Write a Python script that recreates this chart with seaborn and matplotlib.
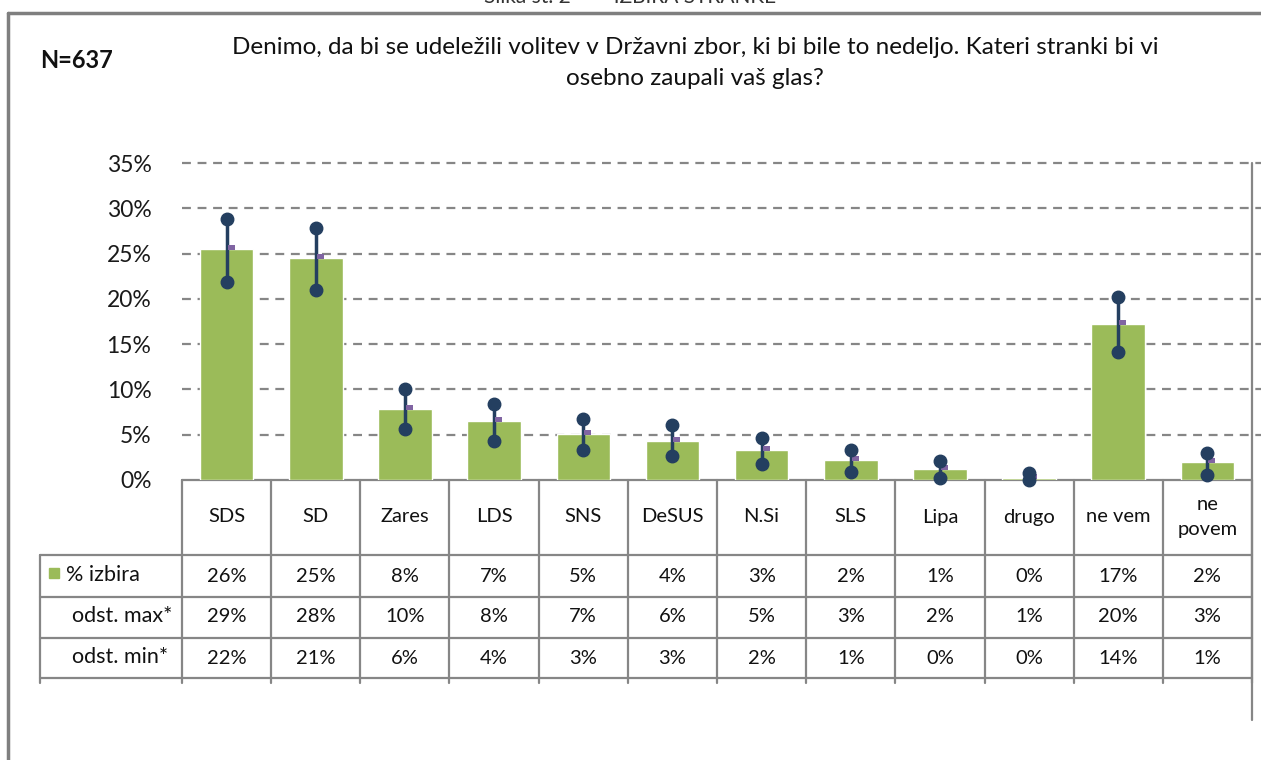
import numpy as np
import pandas as pd
import matplotlib
matplotlib.use("Agg")
import matplotlib.pyplot as plt
import matplotlib.transforms as mtransforms
from matplotlib.lines import Line2D
from matplotlib.patches import Rectangle
from matplotlib.path import Path
import seaborn as sns

# data (percent)
categories = ["SDS", "SD", "Zares", "LDS", "SNS", "DeSUS", "N.Si", "SLS", "Lipa", "drugo", "ne vem", "ne\npovem"]
izbira = [25.5, 24.5, 7.8, 6.5, 5.1, 4.3, 3.3, 2.2, 1.2, 0.2, 17.2, 2.0]
odst_max = [28.8, 27.8, 10.0, 8.4, 6.7, 6.1, 4.6, 3.3, 2.1, 0.8, 20.2, 3.0]
odst_min = [21.9, 21.0, 5.6, 4.3, 3.3, 2.6, 1.8, 0.9, 0.2, 0.0, 14.1, 0.6]
row_labels = ["% izbira", "odst. max*", "odst. min*"]
yticks = [0, 5, 10, 15, 20, 25, 30, 35]

title = "Denimo, da bi se udeležili volitev v Državni zbor, ki bi bile to nedeljo. Kateri stranki bi vi\nosebno zaupali vaš glas?"

sns.set_style("white")
plt.rcParams["font.family"] = ["Lato", "DejaVu Sans"]

W, H = 1261, 760
GREEN = "#9BBB59"
NAVY = "#243F60"
PURPLE = "#8064A2"
GRAY = "#868686"


def fx(x):
    return x / W


def fy(y):
    return 1 - y / H


df = pd.DataFrame({"stranka": categories, "izbira": np.array(izbira) / 100})

fig = plt.figure(figsize=(W / 100, H / 100), dpi=100)
ax = fig.add_axes([fx(182), fy(480), fx(1252) - fx(182), fy(163) - fy(480)])

sns.barplot(data=df, x="stranka", y="izbira", color=GREEN, width=0.6,
            saturation=1, ax=ax, zorder=3)

xs = np.arange(len(categories))
lo = np.array(odst_min) / 100
hi = np.array(odst_max) / 100
ax.vlines(xs, lo, hi, color=NAVY, lw=2.5, zorder=4)
ax.plot(xs, hi, "o", color=NAVY, ms=9, zorder=5, clip_on=False)
ax.plot(xs, lo, "o", color=NAVY, ms=9, zorder=5, clip_on=False)

# small purple dash next to the bar top
dash = Path([(0.15, -0.1), (1, -0.1), (1, 0.45), (0.15, 0.45), (0.15, -0.1)],
            [Path.MOVETO, Path.LINETO, Path.LINETO, Path.LINETO, Path.CLOSEPOLY])
ax.plot(xs, df["izbira"], linestyle="none", marker=dash, ms=12,
        color=PURPLE, mew=0, zorder=4, clip_on=False)

ax.set_xlim(-0.5, len(categories) - 0.5)
ax.set_ylim(0, 0.35)
ax.set_yticks(np.array(yticks) / 100)
ax.set_yticklabels([f"{t}%" for t in yticks], fontsize=16.5, color="#1a1a1a")
ax.tick_params(axis="y", length=0, pad=22)
ax.set_xticks([])
ax.set_xlabel("")
ax.set_ylabel("")
for s in ax.spines.values():
    s.set_visible(False)

# dashed gridlines, a bit past the right edge
ax.hlines(np.array(yticks[1:]) / 100, -0.5, len(categories) - 0.4, colors=GRAY,
          lw=1.6, linestyles=(0, (4, 3)), zorder=1, clip_on=False)

# table under the chart
bt = mtransforms.blended_transform_factory(ax.transData, fig.transFigure)
line_kw = dict(color=GRAY, lw=1.6)
ax.add_line(Line2D([-0.5, len(categories) - 0.5], [fy(480), fy(480)], transform=bt, clip_on=False, **line_kw))
for b in np.arange(len(categories) + 1) - 0.5:
    ax.add_line(Line2D([b, b], [fy(480), fy(683)], transform=bt, clip_on=False, **line_kw))
for yy in [555, 597, 638, 678]:
    fig.add_artist(Line2D([fx(40), fx(1252)], [fy(yy), fy(yy)], **line_kw))
fig.add_artist(Line2D([fx(40), fx(40)], [fy(555), fy(683)], **line_kw))
fig.add_artist(Line2D([fx(1252), fx(1252)], [fy(163), fy(720)], **line_kw))

tkw = dict(transform=bt, ha="center", va="center", fontsize=14.5, color="#111111")
for i, c in enumerate(categories):
    ax.text(i, fy(517), c, linespacing=1.5, **tkw)
row_y = [576, 617, 658]
for vals, yy in zip([izbira, odst_max, odst_min], row_y):
    for i, v in enumerate(vals):
        ax.text(i, fy(yy), f"{int(np.floor(v + 0.5))}%", **tkw)

fig.add_artist(Rectangle((fx(49), fy(578)), fx(10), 10 / H, color=GREEN))
fig.text(fx(66), fy(575), row_labels[0], ha="left", va="center", fontsize=15.5, color="#111111")
fig.text(fx(172), fy(616), row_labels[1], ha="right", va="center", fontsize=15.5, color="#111111")
fig.text(fx(168), fy(657), row_labels[2], ha="right", va="center", fontsize=15.5, color="#111111")

# titles and frame
fig.text(fx(695), fy(63), title, ha="center", va="center", fontsize=17.5,
         linespacing=1.6, color="#111111")
fig.text(fx(40), fy(61), "N=637", ha="left", va="center", fontsize=17,
         fontweight="bold", color="#111111")
fig.text(0.5, fy(3), "Slika št. 2        IZBIRA STRANKE", ha="center", va="baseline",
         fontsize=15, color="#333333")
fig.add_artist(Line2D([fx(8), fx(8)], [fy(13), 0], color="#7F7F7F", lw=2.5))
fig.add_artist(Line2D([fx(8), 1], [fy(13), fy(13)], color="#7F7F7F", lw=2.5))

fig.savefig("out.png", dpi=100)
